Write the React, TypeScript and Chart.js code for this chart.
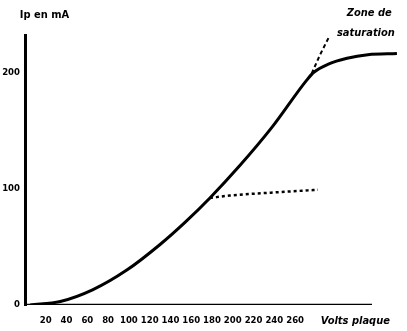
import React, { useEffect, useRef } from "react";
import { Chart, registerables } from "chart.js";

Chart.register(...registerables);

// Plate voltage (V) / plate current (mA) characteristic
const curveVolts = [5, 34, 65, 98, 130, 154, 178, 207, 238, 271, 278, 292, 310, 330, 358];
const curveMilliamps = [0, 3, 13, 30, 52, 71, 92, 120, 153, 193, 200, 207, 212, 215, 216];

// dashed branch without saturation of the lower curve
const lowDashVolts = [178, 197, 245, 282];
const lowDashMilliamps = [92, 94, 97, 99];

// dashed extension above the saturation knee
const highDashVolts = [276, 284, 293];
const highDashMilliamps = [199, 215, 231];

// x axis line extent
const xAxisVolts = [0, 334];
const xAxisMilliamps = [0, 0];

const xTicks = [20, 40, 60, 80, 100, 120, 140, 160, 180, 200, 220, 240, 260, 318];
const xTickLabels = ["20", "40", "60", "80", "100", "120", "140", "160", "180", "200", "220", "240", "260", "Volts plaque"];
const yTicks = [0, 100, 200];
const yTickLabels = ["0", "100", "200"];

const yTitle = "Ip en mA";
const zoneLine1 = "Zone de";
const zoneLine2 = "saturation";

const FONT = "'DejaVu Sans Condensed', 'DejaVu Sans', sans-serif";

const pts = (xs: number[], ys: number[]) => xs.map((x, i) => ({ x, y: ys[i] }));

export default function App() {
  const ref = useRef<HTMLCanvasElement | null>(null);
  useEffect(() => {
    if (!ref.current) return;
    const textPlugin = {
      id: "texts",
      afterDraw(chart: any) {
        const { ctx } = chart;
        const xs = chart.scales.x;
        const ys = chart.scales.y;
        ctx.save();
        ctx.fillStyle = "#000";
        ctx.textBaseline = "middle";
        ctx.font = `bold 11px ${FONT}`;
        ctx.textAlign = "left";
        ctx.fillText(yTitle, xs.getPixelForValue(-5), ys.getPixelForValue(249));
        ctx.font = `italic bold 11px ${FONT}`;
        ctx.textAlign = "right";
        ctx.fillText(zoneLine1, xs.getPixelForValue(353), ys.getPixelForValue(251));
        ctx.fillText(zoneLine2, xs.getPixelForValue(356), ys.getPixelForValue(234));
        ctx.restore();
      },
    };
    const chart = new Chart(ref.current, {
      type: "line",
      data: {
        datasets: [
          {
            data: pts(curveVolts, curveMilliamps),
            borderColor: "#000",
            borderWidth: 3,
            pointRadius: 0,
            cubicInterpolationMode: "monotone",
          },
          {
            data: pts(lowDashVolts, lowDashMilliamps),
            borderColor: "#000",
            borderWidth: 2.5,
            borderDash: [3, 3],
            pointRadius: 0,
            cubicInterpolationMode: "monotone",
          },
          {
            data: pts(highDashVolts, highDashMilliamps),
            borderColor: "#000",
            borderWidth: 2,
            borderDash: [4, 3],
            pointRadius: 0,
          },
          {
            data: pts(xAxisVolts, xAxisMilliamps),
            borderColor: "#000",
            borderWidth: 2.5,
            pointRadius: 0,
          },
        ],
      },
      options: {
        animation: false,
        responsive: true,
        maintainAspectRatio: false,
        layout: { padding: { top: 35, right: 8, left: 0, bottom: 0 } },
        plugins: { legend: { display: false }, tooltip: { enabled: false }, title: { display: false } },
        scales: {
          x: {
            type: "linear",
            min: 0,
            max: 360,
            grid: { display: false, drawTicks: false },
            border: { display: false },
            afterBuildTicks: (s: any) => {
              s.ticks = xTicks.map((v) => ({ value: v }));
            },
            afterFit: (s: any) => {
              s.height = 26;
            },
            ticks: {
              autoSkip: false,
              maxRotation: 0,
              padding: 10,
              color: "#000",
              callback: (v: any) => {
                const i = xTicks.indexOf(Number(v));
                return i >= 0 ? xTickLabels[i] : "";
              },
              font: (c: any) =>
                c.tick && c.tick.value === 318
                  ? { family: FONT, size: 11, style: "italic", weight: "bold" }
                  : { family: FONT, size: 9.5, weight: "bold" },
            },
          },
          y: {
            min: 0,
            max: 232,
            grid: { display: false, drawTicks: false },
            border: { display: true, color: "#000", width: 3 },
            afterBuildTicks: (s: any) => {
              s.ticks = yTicks.map((v) => ({ value: v }));
            },
            afterFit: (s: any) => {
              s.width = 25;
            },
            ticks: {
              padding: 5,
              color: "#000",
              callback: (v: any) => {
                const i = yTicks.indexOf(Number(v));
                return i >= 0 ? yTickLabels[i] : "";
              },
              font: { family: FONT, size: 9.5, weight: "bold" },
            },
          },
        },
      },
      plugins: [textPlugin],
    } as any);
    return () => chart.destroy();
  }, []);
  return (
    <div style={{ position: "absolute", left: 0, top: 0, width: 407, height: 331, background: "#fff" }}>
      <canvas ref={ref} />
    </div>
  );
}
